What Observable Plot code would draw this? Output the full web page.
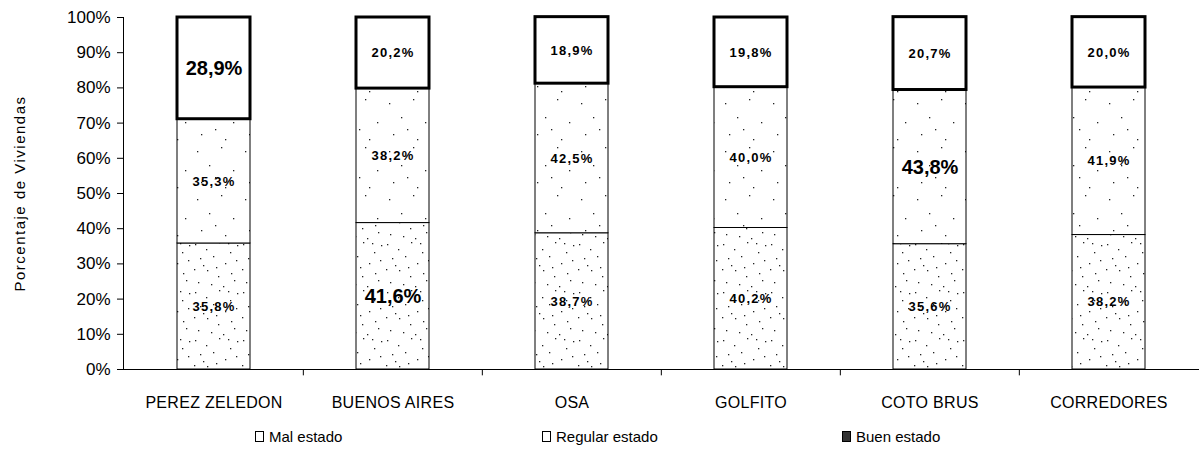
<!DOCTYPE html>
<html><head><meta charset="utf-8">
<script src="https://cdn.jsdelivr.net/npm/d3@7"></script>
<script src="https://cdn.jsdelivr.net/npm/@observablehq/plot@0.6"></script>
<style>
body{margin:0;background:#fff;font-family:"Liberation Sans",Arial,sans-serif;}
#chart{position:relative;width:1199px;height:451px;background:#fff;}
.legend{position:absolute;top:428px;left:0;width:1199px;height:20px;font-size:15px;color:#000;}
.item{position:absolute;top:0;display:flex;align-items:center;white-space:nowrap;}
.sw{width:9px;height:11px;border:1px solid #000;margin-right:5px;box-sizing:border-box;}
.ylab{letter-spacing:1.5px;}
.small{letter-spacing:1.2px;}
</style></head><body><div id="chart"></div>
<script>
// ---- data ----
const categories = ["PEREZ ZELEDON","BUENOS AIRES","OSA","GOLFITO","COTO BRUS","CORREDORES"];
const series = ["Mal estado","Regular estado","Buen estado"];
const malEstado     = [28.9, 20.2, 18.9, 19.8, 20.7, 20.0];
const regularEstado = [35.3, 38.2, 42.5, 40.0, 43.8, 41.9];
const buenEstado    = [35.8, 41.6, 38.7, 40.2, 35.6, 38.2];
const yTicks = [0,10,20,30,40,50,60,70,80,90,100];
const yLabel = "Porcentaje de Viviendas";

// stacking order: bottom -> top
const stackOrder = [["Buen estado", buenEstado], ["Regular estado", regularEstado], ["Mal estado", malEstado]];
const rows = [];
for (const [s, vals] of stackOrder) {
  const mx = d3.max(vals);
  vals.forEach((v, i) => rows.push({cat: categories[i], series: s, value: v, emph: v === mx}));
}
const fmt = v => v.toFixed(1).replace(".", ",") + "%";

const W = 1199, H = 422, ML = 123, MR = 0, MT = 17, MB = 53;
const step = (W - ML - MR) / categories.length;
const font = '"Liberation Sans", Arial, sans-serif';
const stackOpts = {x: "cat", y: "value", z: "series", order: null};

const plot = Plot.plot({
  width: W, height: H, marginLeft: ML, marginRight: MR, marginTop: MT, marginBottom: MB,
  style: {fontFamily: font, background: "#fff", color: "#000", overflow: "visible"},
  x: {domain: categories, paddingInner: 0.59, paddingOuter: 0.295, label: null, axis: null},
  y: {domain: [0, 100], label: null, axis: null},
  color: {type: "ordinal", domain: series, range: ["#ffffff", "url(#pSparse)", "url(#pDense)"]},
  marks: [
    Plot.barY(rows, Plot.stackY({...stackOpts, fill: "series", stroke: "#000",
      strokeWidth: d => d.series === "Mal estado" ? 3 : 1})),
    Plot.text(rows, Plot.stackY({...stackOpts,
      text: d => d.emph ? "" : fmt(d.value), fontSize: 13, fontWeight: "bold", fill: "#000", className: "small"})),
    Plot.text(rows, Plot.stackY({...stackOpts,
      text: d => d.emph ? fmt(d.value) : "", fontSize: 20, fontWeight: "bold", fill: "#000"})),
    Plot.axisY({ticks: yTicks, tickFormat: d => d + "%", tickSize: 6, tickPadding: 7, fontSize: 17, label: null}),
    Plot.axisX({tickSize: 0, tickPadding: 27, fontSize: 16, label: null}),
    Plot.ruleY([0], {stroke: "#000"}),
    Plot.frame({anchor: "left", stroke: "#000"}),
    Plot.ruleX(categories.slice(1), {x: d => d, dx: -step / 2, y1: 0, y2: -1.8, stroke: "#000"}),
    Plot.text([yLabel], {frameAnchor: "left", textAnchor: "middle", rotate: -90, dx: -103, fontSize: 15, fill: "#000", className: "ylab"})
  ]
});

// speckle patterns (decoration only)
const svg = d3.select(plot.tagName === "svg" ? plot : plot.querySelector("svg"));
const defs = svg.insert("defs", ":first-child");
function pattern(id, dots) {
  const p = defs.append("pattern").attr("id", id).attr("patternUnits", "userSpaceOnUse")
    .attr("width", 48).attr("height", 48);
  p.append("rect").attr("width", 48).attr("height", 48).attr("fill", "#fff");
  for (const [x, y] of dots) p.append("rect").attr("x", x).attr("y", y).attr("width", 1.3).attr("height", 1.3).attr("fill", "#222");
}
pattern("pSparse", [[5,7],[29,3],[17,21],[41,26],[9,38],[33,43],[23,33]]);
pattern("pDense", [[3,4],[14,9],[27,2],[38,12],[45,5],[8,18],[21,16],[33,23],[44,20],[2,29],[15,30],[26,36],[39,33],[6,42],[19,44],[31,46],[42,40],[11,25],[36,3],[24,27]]);
svg.selectAll("[aria-label='x-axis tick label'] text").attr("letter-spacing", "0.3");

document.getElementById("chart").append(plot);

// legend
const legend = d3.select("#chart").append("div").attr("class", "legend");
const legendX = [255, 542, 842];
const swFill = {"Mal estado": "#fff", "Regular estado": "#fff", "Buen estado": "#333"};
series.forEach((s, i) => {
  const it = legend.append("div").attr("class", "item").style("left", legendX[i] + "px");
  it.append("div").attr("class", "sw").style("background", swFill[s]);
  it.append("span").text(s);
});
</script></body></html>
